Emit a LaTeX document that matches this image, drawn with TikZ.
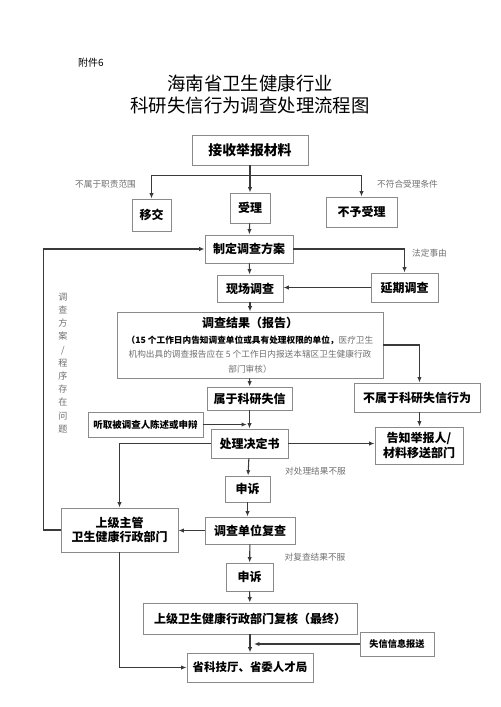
\documentclass[tikz,border=0pt]{standalone}
\usepackage{fontspec}
\setmainfont{Noto Sans CJK SC}
\usepackage{xcolor}
\definecolor{line-gray}{HTML}{3A3A3A}
\definecolor{border-gray}{HTML}{8A8A8A}
\definecolor{note-gray}{HTML}{707070}
\usepackage{tikz}
\usetikzlibrary{arrows.meta}

\tikzset{
    flow-box/.style={draw=border-gray, line width=0.7pt, fill=white, inner sep=0pt,
                     align=center, font=\bfseries\fontsize{9}{11}\selectfont},
    flow-arrow/.style={draw=line-gray, line width=0.8pt, -{Latex[length=4pt,width=3.2pt]}},
    side-note/.style={text=note-gray, inner sep=0pt, font=\fontsize{6.5}{8}\selectfont}
}

\begin{document}
\begin{tikzpicture}[x=0.75pt, y=-0.75pt]

    % Page
    \useasboundingbox (0, 0) rectangle (500, 707);

    % Title
    \node[inner sep=0pt, font=\fontsize{7.5}{9}\selectfont] (annex) at (91, 63) {附件6};
    \node[inner sep=0pt, font=\fontsize{13.8}{16}\selectfont] (title-a) at (250, 83) {海南省卫生健康行业};
    \node[inner sep=0pt, font=\fontsize{13.8}{16}\selectfont] (title-b) at (250, 106) {科研失信行为调查处理流程图};

    % Boxes
    \node[flow-box, minimum width=87pt, minimum height=22.5pt, font=\bfseries\fontsize{10.4}{12}\selectfont] (recv) at (250, 150) {接收举报材料};
    \node[flow-box, minimum width=29.25pt, minimum height=24pt] (transfer) at (151.5, 215) {移交};
    \node[flow-box, minimum width=30pt, minimum height=22.5pt] (accept) at (250, 208) {受理};
    \node[flow-box, minimum width=53.25pt, minimum height=22.5pt] (reject) at (361.5, 212) {不予受理};
    \node[flow-box, minimum width=66pt, minimum height=21pt] (plan) at (249, 249) {制定调查方案};
    \node[flow-box, minimum width=49.5pt, minimum height=20.25pt] (site) at (250, 288.5) {现场调查};
    \node[flow-box, minimum width=50.25pt, minimum height=21.75pt] (delay) at (404.5, 287.5) {延期调查};
    \node[flow-box, minimum width=199.5pt, minimum height=49.5pt] (result) at (250, 345)
        {调查结果（报告）\\[1pt]
         {\fontsize{6.5}{10.5}\selectfont （15 个工作日内告知调查单位或具有处理权限的单位，\mdseries\color{note-gray}医疗卫生}\\
         {\fontsize{6.5}{10.5}\selectfont\mdseries\color{note-gray}机构出具的调查报告应在 5 个工作日内报送本辖区卫生健康行政}\\
         {\fontsize{6.5}{10.5}\selectfont\mdseries\color{note-gray}部门审核）}};
    \node[flow-box, minimum width=63.75pt, minimum height=17.25pt] (belong) at (249.5, 398.5) {属于科研失信};
    \node[flow-box, minimum width=94.5pt, minimum height=21.75pt] (notbelong) at (417, 397.5) {不属于科研失信行为};
    \node[flow-box, minimum width=86.25pt, minimum height=18.75pt, font=\bfseries\fontsize{7.1}{9}\selectfont] (hear) at (145.5, 424.5) {听取被调查人陈述或申辩};
    \node[flow-box, minimum width=57.75pt, minimum height=21.75pt] (decision) at (249.5, 443.5) {处理决定书};
    \node[flow-box, minimum width=66pt, minimum height=27.75pt] (notify) at (419, 445.5) {告知举报人/\\材料移送部门};
    \node[flow-box, minimum width=33.75pt, minimum height=19.5pt] (appeal-a) at (247.5, 489) {申诉};
    \node[flow-box, minimum width=87.75pt, minimum height=33pt] (superior) at (119.5, 530) {上级主管\\卫生健康行政部门};
    \node[flow-box, minimum width=67.5pt, minimum height=20.25pt] (review) at (250, 530.5) {调查单位复查};
    \node[flow-box, minimum width=35.25pt, minimum height=21pt] (appeal-b) at (249.5, 577) {申诉};
    \node[flow-box, minimum width=160.5pt, minimum height=23.25pt] (final) at (250, 618.5) {上级卫生健康行政部门复核（最终）};
    \node[flow-box, minimum width=55.5pt, minimum height=18pt, font=\bfseries\fontsize{6.9}{8}\selectfont] (report) at (397, 644) {失信信息报送};
    \node[flow-box, minimum width=94.5pt, minimum height=21.75pt, font=\bfseries\fontsize{8.6}{10}\selectfont] (bureau) at (250, 667.5) {省科技厅、省委人才局};

    % Notes
    \node[side-note] (note-scope) at (105.5, 184) {不属于职责范围};
    \node[side-note] (note-cond) at (407.5, 184) {不符合受理条件};
    \node[side-note] (note-legal) at (429.5, 253) {法定事由};
    \node[side-note] (note-dec) at (315.5, 471) {对处理结果不服};
    \node[side-note] (note-rev) at (315, 557) {对复查结果不服};
    \node[side-note, align=center, font=\fontsize{6.8}{9.9}\selectfont] (note-loop) at (63, 363)
        {调\\查\\方\\案\\/\\程\\序\\存\\在\\问\\题};

    % Top branches
    \draw[flow-arrow] (recv.south) -- (accept.north);
    \draw[flow-arrow] (recv.south) ++(0, 10) -| (transfer.north);
    \draw[flow-arrow] (recv.south) ++(0, 10) -| (reject.north);
    \draw[flow-arrow] (accept) -- (plan);

    % Investigation
    \draw[flow-arrow] (plan) -- (site);
    \draw[flow-arrow] (plan.east) -| (delay.north);
    \draw[flow-arrow] (delay.west) -- (site.east |- delay.west);
    \draw[flow-arrow] (site) -- (result);
    \draw[flow-arrow] (result.east) -- ++(36, 0) coordinate (result-turn) -- (result-turn |- notbelong.north);
    \draw[flow-arrow] (result) -- (belong);
    \draw[flow-arrow] (notbelong.south -| result-turn) -- (result-turn |- notify.north);

    % Decision
    \coordinate (hear-end) at (belong.south |- hear.east);
    \draw[flow-arrow] (belong) -- (decision);
    \draw[flow-arrow] (hear.east) -- ([xshift=-2pt]hear-end);
    \draw[flow-arrow] (decision.east) -- (notify.west |- decision.east);
    \draw[flow-arrow] (decision.west) -| (superior.north);
    \draw[flow-arrow] (decision) -- (appeal-a);
    \draw[flow-arrow] (appeal-a.south) -- (appeal-a.south |- review.north);

    % Review
    \draw[flow-arrow] (review.west) -- (superior.east |- review.west);
    \draw[flow-arrow] (superior.west) -- ++(-17, 0) |- (plan.west);
    \draw[flow-arrow] (review) -- (appeal-b);
    \draw[flow-arrow] (appeal-b) -- (final);

    % Final
    \coordinate (report-end) at (final.south |- report.west);
    \draw[flow-arrow] (final) -- (bureau);
    \draw[flow-arrow] (report.west) -- ([xshift=3pt]report-end);
    \draw[flow-arrow] (superior.south) |- (bureau.west);

\end{tikzpicture}
\end{document}
